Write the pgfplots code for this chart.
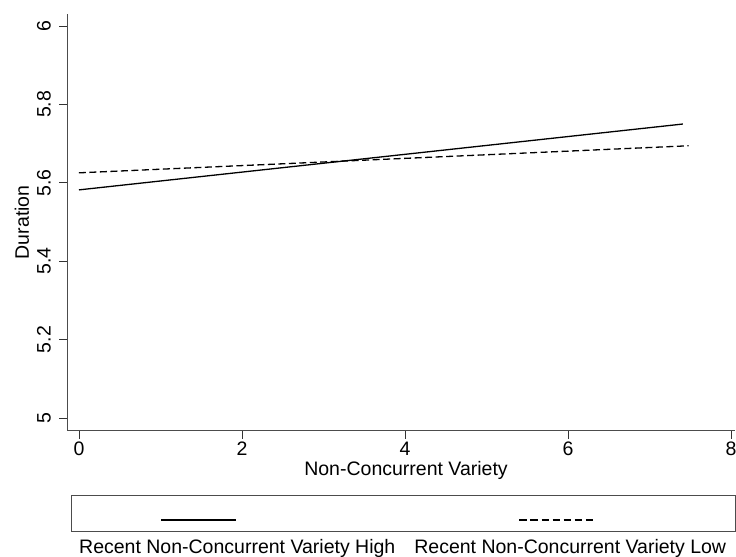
\documentclass[border=0pt]{standalone}
\usepackage{fontspec}
\setmainfont{Liberation Sans}
\usepackage{pgfplots}
\pgfplotsset{compat=1.18}
\newcommand\F{\fontsize{19.5bp}{23bp}\selectfont}
\begin{document}
\begin{tikzpicture}
\useasboundingbox (0,0) rectangle (736bp,-557bp);
\begin{axis}[
  at={(67bp,-430.7bp)}, anchor=south west,
  scale only axis, width=668bp, height=416.7bp,
  xmin=-0.147, xmax=8.05, ymin=4.9676, ymax=6.0307,
  axis x line*=bottom, axis y line*=left,
  axis line style={-, draw=black!70, line width=0.8bp},
  xtick={0,2,4,6,8}, ytick={5,5.2,5.4,5.6,5.8,6},
  yticklabels={5,5.2,5.4,5.6,5.8,6},
  tick align=outside, major tick length=8bp,
  tick style={draw=black!80, line width=0.8bp},
  /pgf/number format/assume math mode=true,
  tick label style={font=\F},
  xticklabel style={anchor=north, inner sep=0pt},
  yticklabel style={rotate=90, anchor=south, inner sep=0pt},
  xticklabel shift=3bp, yticklabel shift=8bp,
  every axis x label/.style={at={(axis description cs:0.5075,-0.0962)}, anchor=center, font=\F},
  every axis y label/.style={at={(axis description cs:-0.0674,0.5)}, rotate=90, anchor=center, font=\F},
  xlabel={Non-Concurrent Variety}, ylabel={Duration},
  clip=false,
  legend columns=2,
  legend style={at={(axis description cs:0.018,-0.26)}, anchor=north west,
    draw=none, fill=none, inner sep=0pt, font=\F,
    nodes={inner sep=0pt},
    /tikz/every even column/.append style={column sep=19bp}},
]
\addplot[black, line width=1.3bp,
  legend image code/.code={\draw[black, line width=1.3bp, overlay] (82bp,27bp) -- (157bp,27bp);}]
  coordinates {(0,5.582) (7.41,5.75)};
\addlegendentry{Recent Non-Concurrent Variety High}
\addplot[black, line width=1.3bp, dash pattern=on 7bp off 3.5bp,
  legend image code/.code={\draw[black, line width=1.3bp, dash pattern=on 7.5bp off 3.58bp, overlay] (105bp,27bp) -- (179bp,27bp);}]
  coordinates {(0,5.6255) (7.48,5.6945)};
\addlegendentry{Recent Non-Concurrent Variety Low}
\end{axis}
\draw[black!70, line width=0.8bp] (71.7bp,-495.7bp) rectangle (735bp,-531.7bp);
\end{tikzpicture}
\end{document}
